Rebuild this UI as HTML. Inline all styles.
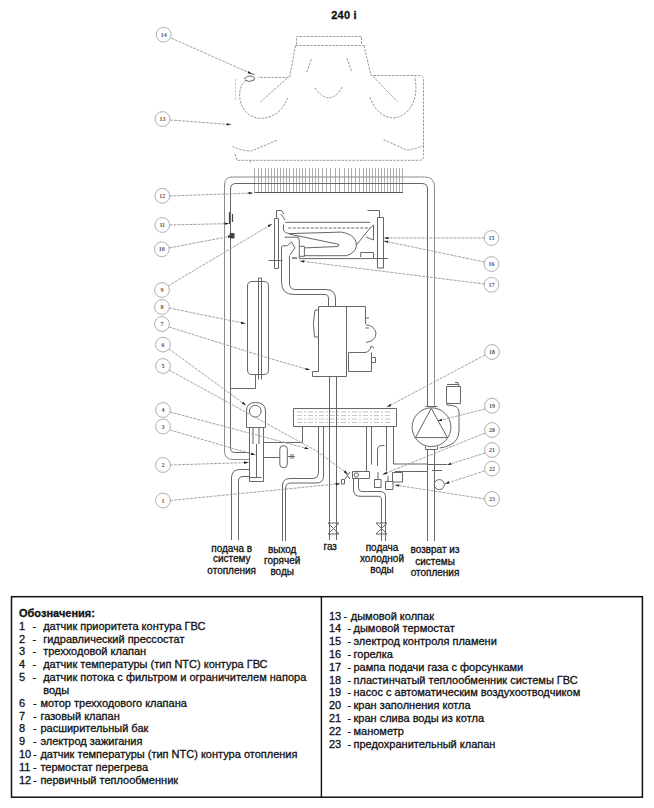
<!DOCTYPE html>
<html><head><meta charset="utf-8">
<style>
html,body{margin:0;padding:0;background:#fff;}
body{width:654px;height:808px;position:relative;overflow:hidden;font-family:"Liberation Sans",sans-serif;color:#111;}
.t{position:absolute;white-space:pre;font-size:11px;line-height:13px;-webkit-text-stroke:0.3px #111;}
.lab{position:absolute;white-space:pre;font-size:10px;line-height:11.35px;text-align:center;color:#111;-webkit-text-stroke:0.3px #111;}


svg{position:absolute;left:0;top:0;}
</style></head><body>
<div class="t" style="left:331.3px;top:8.99px;font-weight:bold;letter-spacing:0.2px;">240 i</div>
<svg width="654" height="808" viewBox="0 0 654 808">
<g fill="none" stroke-linecap="butt" stroke-linejoin="round">
<!-- ===== flue hood (13) ===== -->
<g stroke="#9a9a9a" stroke-width="1" stroke-dasharray="2.5 1.2">
 <path d="M296.5,44.5 V36.5 H361.5 V44.5"/>
 <path d="M295.5,45.5 H364"/>
 <path d="M295.5,45.5 L289.6,77.4 H258.3"/>
 <path d="M364,45.5 L371,75.5 H419.5 Q423.5,75.5 423.5,80 V156 Q423.5,160.3 419.5,160.3 H237.2 L234.5,152.5"/>
 <path d="M235.5,100 V78" stroke="#c8c8c8"/>
 <path d="M245.4,80.4 C236,88 238,110 252,116.5 C262,121 280,118 287.6,98"/>
 <path d="M369.9,97.2 C374,110 384,118 393,117.9 C408,117.5 420,100 414.6,76.6"/>
 <path d="M314.8,88 Q329.7,108 342.3,87"/>
 <path d="M260.4,102 L287.6,77.7"/>
 <path d="M373.3,76.6 L397.4,101.8"/>
 <path d="M311.4,59.4 L306.8,72"/>
 <path d="M346.9,58.3 L351.5,70.9"/>
 <path d="M232.5,146.4 L238.6,149 Q245,151 251.5,151 L276.7,140.3"/>
 <path d="M383.6,139.7 L406.6,150 Q416,149 424.9,145.4"/>
 <path d="M250.5,160 V163.4"/>
</g>
<path d="M244,79 Q247,75 252,76 Q256,78 254,80 Q249,83 245,80 M250.5,73.3 L254.5,74.6" stroke="#666" stroke-width="1"/>
<!-- ===== heat exchanger fins (12) ===== -->
<g stroke="#8a8a8a" stroke-width="0.7">
 <path d="M254.5,168 V192.5 M258.5,168 V192.5 M261.5,168 V192.5 M265.5,168 V192.5 M268.5,168 V192.5 M271.5,168 V192.5 M274.5,168 V192.5 M277.5,168 V192.5 M280.5,168 V192.5 M283.5,168 V192.5 M286.5,168 V192.5 M289.5,168 V192.5 M293.5,168 V192.5 M296.5,168 V192.5 M299.5,168 V192.5 M302.5,168 V192.5 M305.5,168 V192.5 M309.5,168 V192.5 M312.5,168 V192.5 M315.5,168 V192.5 M318.5,168 V192.5 M322.5,168 V192.5 M326.5,168 V192.5 M330.5,168 V192.5 M335.5,168 V192.5 M339.5,168 V192.5 M344.5,168 V192.5 M348.5,168 V192.5 M351.5,168 V192.5 M355.5,168 V192.5 M359.5,168 V192.5 M363.5,168 V192.5 M366.5,168 V192.5 M369.5,168 V192.5 M372.5,168 V192.5 M375.5,168 V192.5 M378.5,168 V192.5 M381.5,168 V192.5 M384.5,168 V192.5 M387.5,168 V192.5 M390.5,168 V192.5 M393.5,168 V192.5 M396.5,168 V192.5 M399.5,168 V192.5 M402.5,168 V192.5"/>
</g>
<path d="M254.5,192.5 H403" stroke="#555" stroke-width="1"/>
<!-- ===== main heating pipes ===== -->
<g stroke="#8c8c8c" stroke-width="1">
 <path d="M224.5,451 V185 Q224.5,177 232,177 H424.5 Q434.5,177 434.5,187 V406"/>
 <path d="M224.5,451 Q224.5,459.5 233,459.5 H249.5"/>
</g>
<g stroke="#666" stroke-width="1">
 <path d="M230.5,448 V189 Q230.5,183.5 236,183.5 H422 Q427.5,183.5 427.5,189 V406"/>
 <path d="M230.5,448 Q230.5,452.5 235,452.5 H249.5"/>
 <path d="M249.5,469.5 H240 Q231.5,469.5 231.5,478 V540"/>
 <path d="M249.5,476.5 H243 Q238.5,476.5 238.5,481 V540"/>
 <path d="M427.5,449 V541"/>
 <path d="M434.5,449 V541"/>
</g>
<path d="M229.5,212 V224 M232.5,214 V222" stroke="#444" stroke-width="1.2"/>
<path d="M230,233.5 H234 V238 H230 Z" fill="#444" stroke="#444" stroke-width="1"/>
<!-- ===== burner assembly ===== -->
<g stroke="#666" stroke-width="1">
 <path d="M274.5,218.5 V268.5 M278.5,218.5 V268.5 M274.5,218.5 H278.5 M274.5,268.5 H278.5"/>
 <path d="M276.5,218 V210.5 H281.5 L284,214 M281,214 L285,220"/>
 <path d="M268.5,260.5 H282.5"/>
 <path d="M377.5,217.5 V268 M383.5,217.5 V268 M377.5,217.5 H383.5 M377.5,268 H383.5"/>
 <path d="M367.5,210.5 H379.5 V217.5"/>
 <path d="M374,258.5 H388"/>
 <path d="M285.3,222.3 H370.3"/>
 <path d="M288.3,228 H370.3" stroke-dasharray="3 1.5"/>
 <path d="M283.5,224.5 V230 Q284,233 289.9,233.6 L341.4,232.1 Q350,233.5 354,238 Q357,242 356.4,246 Q355,253 346.8,255.7 H304.4"/>
 <path d="M289,234 L339,244.4 L338,246.5 L304.4,247.9"/>
 <path d="M284.5,237.2 H298.3 L299.3,240 V258.6"/>
 <path d="M299.8,246.3 H304.4 V256.3 H299.8"/>
 <path d="M356.4,245 L370.3,227.8 L373.5,225 V240 L366,237"/>
 <path d="M299.3,258.6 H373.5 V252.5 H360.7 V257"/>
 <path d="M282,246 L287.6,245.6 L291.4,241.8 L295,248 L292,252 L290,255"/>
 <path d="M281.5,246.5 V282 Q281.5,294.5 294,294.5 H325 Q328.5,294.5 328.5,299 V306.5"/>
 <path d="M289.5,255.7 V283 Q289.5,289.5 295,289.5 H326 Q335.5,289.5 335.5,299 V306.5"/>
 <path d="M292,258 H297" stroke-width="1.5"/>
</g>
<!-- ===== gas valve (7) ===== -->
<g stroke="#666" stroke-width="1">
 <path d="M318.5,306.5 H365.5 V324"/>
 <path d="M318.5,306.5 V371.5 H312.5 V376.5 H346.5 V306.5"/>
 <path d="M318,310 H315 Q312,323 314.5,337 H318"/>
 <path d="M366,325 Q374,325 376,333 Q376,341 366,342.5"/>
 <path d="M348.5,352.5 H365 Q370,352 371,346 L374,348 M348.5,352.5 V371.5 H371.5 V352.5"/>
 <path d="M371.5,357.5 H375.5 V362.5 H371.5"/>
 <path d="M365.5,328 H369 M365.5,318 H369"/>
 <path d="M329.5,376.5 V540 M336.5,376.5 V540"/>
 <path d="M328,523 L339,534 M339,523 L328,534 M328,523 H339 M328,534 H339"/>
</g>
<!-- ===== expansion tank (8) ===== -->
<g stroke="#666" stroke-width="1">
 <path d="M247.5,286 Q247.5,281.5 252,281.5 H264 Q268.5,281.5 268.5,286 V370 Q268.5,374.5 264,374.5 H252 Q247.5,374.5 247.5,370 Z"/>
 <path d="M258.5,278 V379.5 M261.5,278 V379.5 M258.5,278 H261.5"/>
 <path d="M255.5,374.5 V388.5 H230.5"/>
</g>
<!-- ===== pump 6 + 3-way valve ===== -->
<g stroke="#666" stroke-width="1">
 <path d="M246.5,427.5 V411 Q246.5,402.5 255.5,402.5 Q265.5,402.5 265.5,411 V427.5 Z"/>
 <circle cx="255.3" cy="411.2" r="5.9"/>
 <path d="M249.5,427.5 V481.5 H263.5 V427.5"/>
 <path d="M256.5,444 V477 M249.5,477.5 H261.5 M253,428 V444 M259,428 V444"/>
 <path d="M263.5,442.5 H302.5 V427"/>
 <path d="M263.5,457.5 H279.8"/>
 <rect x="279.8" y="445.7" width="7.5" height="22" rx="3.5"/>
 <path d="M287.3,456.5 H294.9 M291,454 V459 M293,454 V459"/>
 <path d="M318.5,427 V472 Q318.5,478.5 312,478.5 H290 Q282.5,478.5 282.5,486 V541"/>
 <path d="M323.5,427 V476 Q323.5,483 316,483 H291 Q285.5,483 285.5,489 V541"/>
</g>
<!-- ===== plate HX (18) ===== -->
<g stroke="#666" stroke-width="1">
 <path d="M293.5,408.5 H396.5 V426.5 H293.5 Z"/>
 <path d="M297,412 H392 M297,415.5 H392 M297,419 H392 M297,422.5 H392" stroke="#b5b5b5" stroke-width="0.8" stroke-dasharray="5 2 2 2"/>
 <path d="M366.5,426.5 V471.5 M371.5,426.5 V464.5 M386.5,426.5 V471.5 M393.5,426.5 V464"/>
 <path d="M393.5,464 H427.5 M395,471.5 H427.5"/>
 <path d="M377.5,466 V450 Q377.5,445.5 382,445.5 H384.5"/>
 <path d="M352.5,471.5 H369.5 V478.5 H352.5 Z"/>
 <circle cx="356.3" cy="475" r="2.2"/>
 <path d="M345,472 L350,479 M350,472 L345,479"/>
 <rect x="341.5" y="479.5" width="3" height="4.5"/>
 <rect x="374.5" y="479.5" width="6.5" height="8"/>
 <rect x="385.5" y="481.5" width="7.5" height="8"/>
 <rect x="392.5" y="472.5" width="10" height="9.5"/>
 <path d="M378,479.5 V472 M388,481.5 V476"/>
 <path d="M353.5,478.6 V489.4 Q353.5,496.3 360,496.3 H379 Q381.5,496.5 381.5,500 V541"/>
 <path d="M358.5,478.6 V488 Q358.5,491.5 362,491.5 H380 Q385.5,491.5 385.5,497 V541"/>
 <path d="M376,523 L387,534 M387,523 L376,534 M376,523 H387 M376,534 H387"/>
</g>
<!-- ===== circulation pump (19) ===== -->
<g stroke="#666" stroke-width="1">
 <circle cx="431.5" cy="427.2" r="19.4"/>
 <path d="M431.2,408.3 L415.5,437.6 H447.4 Z"/>
 <path d="M425.5,406.5 H437.5 M425.5,446.5 V449.5 H437.5 V446.5"/>
 <path d="M446.5,386.5 H460.5 V403.5 H446.5 Z M447,384.5 H459 V386.5 M455,382.5 H458 V384.5"/>
 <path d="M447,403.5 V405 Q459,405 459,412 V430 Q459,441 450,445 Q445,447.5 439.6,448"/>
 <path d="M427,464.5 H447 M432,470.5 H442"/>
 <circle cx="439.3" cy="484.6" r="5"/>
</g>
<!-- ===== label circles ===== -->
<g stroke="#b0b0b0" stroke-width="1" fill="#fff">
 <circle cx="163.7" cy="34.7" r="7.4"/>
 <circle cx="162.5" cy="119" r="7.4"/>
 <circle cx="162.3" cy="195.8" r="7.4"/>
 <circle cx="162.3" cy="225" r="7.4"/>
 <circle cx="161.8" cy="249.3" r="7.4"/>
 <circle cx="162" cy="290" r="7.4"/>
 <circle cx="162" cy="307" r="7.4"/>
 <circle cx="162" cy="324" r="7.4"/>
 <circle cx="163" cy="344.6" r="7.4"/>
 <circle cx="163" cy="366" r="7.4"/>
 <circle cx="163" cy="410" r="7.4"/>
 <circle cx="163" cy="426.5" r="7.4"/>
 <circle cx="163" cy="465" r="7.4"/>
 <circle cx="163" cy="500.5" r="7.4"/>
 <circle cx="491.5" cy="238" r="7.4"/>
 <circle cx="491.5" cy="264" r="7.4"/>
 <circle cx="491.5" cy="284.8" r="7.4"/>
 <circle cx="492" cy="352" r="7.4"/>
 <circle cx="492" cy="405.7" r="7.4"/>
 <circle cx="492" cy="430" r="7.4"/>
 <circle cx="492" cy="450" r="7.4"/>
 <circle cx="492" cy="468.6" r="7.4"/>
 <circle cx="492" cy="499" r="7.4"/>
</g>
<g fill="#555" stroke="none" font-family="Liberation Serif" font-size="6" font-weight="bold" text-anchor="middle">
 <text x="163.7" y="36.8">14</text>
 <text x="162.5" y="121.1">13</text>
 <text x="162.3" y="197.9">12</text>
 <text x="162.3" y="227.1">11</text>
 <text x="161.8" y="251.4">10</text>
 <text x="162" y="292.1">9</text>
 <text x="162" y="309.1">8</text>
 <text x="162" y="326.1">7</text>
 <text x="163" y="346.7">6</text>
 <text x="163" y="368.1">5</text>
 <text x="163" y="412.1">4</text>
 <text x="163" y="428.6">3</text>
 <text x="163" y="467.1">2</text>
 <text x="163" y="502.6">1</text>
 <text x="491.5" y="240.1">15</text>
 <text x="491.5" y="266.1">16</text>
 <text x="491.5" y="286.9">17</text>
 <text x="492" y="354.1">18</text>
 <text x="492" y="407.8">19</text>
 <text x="492" y="432.1">20</text>
 <text x="492" y="452.1">21</text>
 <text x="492" y="470.7">22</text>
 <text x="492" y="501.1">23</text>
</g>
<!-- ===== leader lines ===== -->
<defs><marker id="ar" viewBox="0 0 6 4" refX="6" refY="2" markerWidth="4.5" markerHeight="3" orient="auto" markerUnits="userSpaceOnUse"><path d="M0,0.3 L6,2 L0,3.7 Z" fill="#222" stroke="none"/></marker></defs>
<g stroke="#999" stroke-width="0.9" stroke-dasharray="3 1" marker-end="url(#ar)">
 <path d="M171,38 L252,74"/>
 <path d="M170,120 L231,124.6"/>
 <path d="M169.5,196 L253,193"/>
 <path d="M169.5,225 L229,223.6"/>
 <path d="M169,248 L232,236"/>
 <path d="M168,286 L272,224"/>
 <path d="M169,308 L245.5,323.6"/>
 <path d="M169,327 L271.5,359 L309.9,370"/>
 <path d="M169,349 L246,405.3"/>
 <path d="M169,370 L316,450.7 L348,474"/>
 <path d="M170,412 L255.4,434.7 L309,449"/>
 <path d="M170,430 L255.4,455"/>
 <path d="M170,465 L248.6,462.5"/>
 <path d="M170,500.5 L340,483.7"/>
 <path d="M484.5,238 L384,238"/>
 <path d="M484.5,262 L384,241"/>
 <path d="M484.5,284 L300,261"/>
 <path d="M485,355 L387,407"/>
 <path d="M485,409 L437.6,421"/>
 <path d="M485,433 L382.6,474.5"/>
 <path d="M485,453 L447,465"/>
 <path d="M484.6,471 L445,483.7"/>
 <path d="M485,499 L395,485"/>
</g>
</g>
</svg>

<div class="lab" style="left:201.7px;top:542.7px;width:60px;">подача в</div>
<div class="lab" style="left:201.7px;top:553.2px;width:60px;">систему</div>
<div class="lab" style="left:201.7px;top:565.4px;width:60px;">отопления</div>
<div class="lab" style="left:252.2px;top:544.4px;width:60px;">выход</div>
<div class="lab" style="left:252.2px;top:554.8px;width:60px;">горячей</div>
<div class="lab" style="left:252.2px;top:566.4px;width:60px;">воды</div>
<div class="lab" style="left:300.2px;top:541.3px;width:60px;">газ</div>
<div class="lab" style="left:352px;top:541.9px;width:60px;">подача</div>
<div class="lab" style="left:352px;top:552.8px;width:60px;">холодной</div>
<div class="lab" style="left:352px;top:563.7px;width:60px;">воды</div>
<div class="lab" style="left:405px;top:544.4px;width:60px;">возврат из</div>
<div class="lab" style="left:405px;top:556.2px;width:60px;">системы</div>
<div class="lab" style="left:405px;top:567.1px;width:60px;">отопления</div>

<svg width="654" height="808" style="position:absolute;left:0;top:0"><rect x="11.5" y="596.7" width="630.9" height="200.5" fill="none" stroke="#111" stroke-width="1.5"/><path d="M321.4,596.7 V797.2" stroke="#111" stroke-width="1.4"/></svg>
<div class="t" style="left:19px;top:606.89px;font-weight:bold">Обозначения:</div>
<div class="t" style="left:19px;top:619.69px">1</div>
<div class="t" style="left:32.6px;top:619.69px">-</div>
<div class="t" style="left:43.2px;top:619.69px">датчик приоритета контура ГВС</div>
<div class="t" style="left:19px;top:632.52px">2</div>
<div class="t" style="left:32.6px;top:632.52px">-</div>
<div class="t" style="left:43.2px;top:632.52px">гидравлический прессостат</div>
<div class="t" style="left:19px;top:645.35px">3</div>
<div class="t" style="left:32.6px;top:645.35px">-</div>
<div class="t" style="left:43.2px;top:645.35px">трехходовой клапан</div>
<div class="t" style="left:19px;top:658.18px">4</div>
<div class="t" style="left:32.6px;top:658.18px">-</div>
<div class="t" style="left:43.2px;top:658.18px">датчик температуры (тип NTC) контура ГВС</div>
<div class="t" style="left:19px;top:671.01px">5</div>
<div class="t" style="left:32.6px;top:671.01px">-</div>
<div class="t" style="left:43.2px;top:671.01px">датчик потока с фильтром и ограничителем напора</div>
<div class="t" style="left:43.2px;top:683.84px">воды</div>
<div class="t" style="left:19px;top:696.67px">6</div>
<div class="t" style="left:33.0px;top:696.67px">-</div>
<div class="t" style="left:40.4px;top:696.67px">мотор трехходового клапана</div>
<div class="t" style="left:19px;top:709.50px">7</div>
<div class="t" style="left:33.0px;top:709.50px">-</div>
<div class="t" style="left:40.4px;top:709.50px">газовый клапан</div>
<div class="t" style="left:19px;top:722.33px">8</div>
<div class="t" style="left:33.0px;top:722.33px">-</div>
<div class="t" style="left:40.4px;top:722.33px">расширительный бак</div>
<div class="t" style="left:19px;top:735.16px">9</div>
<div class="t" style="left:33.0px;top:735.16px">-</div>
<div class="t" style="left:40.4px;top:735.16px">электрод зажигания</div>
<div class="t" style="left:19px;top:747.99px">10</div>
<div class="t" style="left:33.0px;top:747.99px">-</div>
<div class="t" style="left:40.4px;top:747.99px">датчик температуры (тип NTC) контура отопления</div>
<div class="t" style="left:19px;top:760.82px">11</div>
<div class="t" style="left:33.0px;top:760.82px">-</div>
<div class="t" style="left:40.4px;top:760.82px">термостат перегрева</div>
<div class="t" style="left:19px;top:773.65px">12</div>
<div class="t" style="left:33.0px;top:773.65px">-</div>
<div class="t" style="left:40.4px;top:773.65px">первичный теплообменник</div>
<div class="t" style="left:329px;top:609.59px">13</div>
<div class="t" style="left:343.6px;top:609.59px">-</div>
<div class="t" style="left:350.8px;top:609.59px">дымовой колпак</div>
<div class="t" style="left:329px;top:622.40px">14</div>
<div class="t" style="left:347.4px;top:622.40px">-</div>
<div class="t" style="left:353.5px;top:622.40px">дымовой термостат</div>
<div class="t" style="left:329px;top:635.21px">15</div>
<div class="t" style="left:347.4px;top:635.21px">-</div>
<div class="t" style="left:353.5px;top:635.21px">электрод контроля пламени</div>
<div class="t" style="left:329px;top:648.02px">16</div>
<div class="t" style="left:347.4px;top:648.02px">-</div>
<div class="t" style="left:353.5px;top:648.02px">горелка</div>
<div class="t" style="left:329px;top:660.83px">17</div>
<div class="t" style="left:347.4px;top:660.83px">-</div>
<div class="t" style="left:353.5px;top:660.83px">рампа подачи газа с форсунками</div>
<div class="t" style="left:329px;top:673.64px">18</div>
<div class="t" style="left:347.4px;top:673.64px">-</div>
<div class="t" style="left:353.5px;top:673.64px">пластинчатый теплообменник системы ГВС</div>
<div class="t" style="left:329px;top:686.45px">19</div>
<div class="t" style="left:347.4px;top:686.45px">-</div>
<div class="t" style="left:353.5px;top:686.45px">насос с автоматическим воздухоотводчиком</div>
<div class="t" style="left:329px;top:699.26px">20</div>
<div class="t" style="left:347.4px;top:699.26px">-</div>
<div class="t" style="left:353.5px;top:699.26px">кран заполнения котла</div>
<div class="t" style="left:329px;top:712.07px">21</div>
<div class="t" style="left:347.4px;top:712.07px">-</div>
<div class="t" style="left:353.5px;top:712.07px">кран слива воды из котла</div>
<div class="t" style="left:329px;top:724.88px">22</div>
<div class="t" style="left:347.4px;top:724.88px">-</div>
<div class="t" style="left:353.5px;top:724.88px">манометр</div>
<div class="t" style="left:329px;top:737.69px">23</div>
<div class="t" style="left:347.4px;top:737.69px">-</div>
<div class="t" style="left:353.5px;top:737.69px">предохранительный клапан</div>
</body></html>
